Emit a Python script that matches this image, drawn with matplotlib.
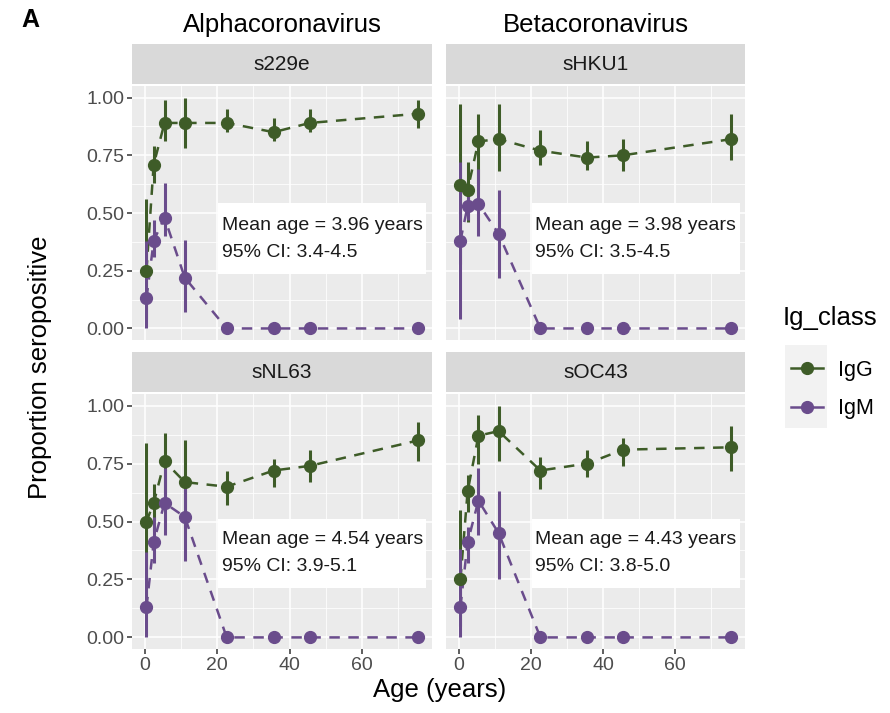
import matplotlib
matplotlib.use("Agg")
import matplotlib.pyplot as plt
from matplotlib.lines import Line2D
from matplotlib.patches import Rectangle

#
#   Data
#

ages = [0.4, 2.4, 5.4, 11.0, 22.6, 35.6, 45.6, 75.6]

panels = ["s229e", "sHKU1", "sNL63", "sOC43"]
families = ["Alphacoronavirus", "Betacoronavirus"]
mean_ages = ["3.96", "3.98", "4.54", "4.43"]
mean_ci = ["3.4-4.5", "3.5-4.5", "3.9-5.1", "3.8-5.0"]

igg_s229e = [0.25, 0.71, 0.89, 0.89, 0.89, 0.85, 0.89, 0.93]
igg_s229e_lo = [0.04, 0.63, 0.81, 0.78, 0.85, 0.81, 0.85, 0.87]
igg_s229e_hi = [0.56, 0.79, 0.99, 1.00, 0.95, 0.91, 0.95, 0.99]
igm_s229e = [0.13, 0.38, 0.48, 0.22, 0, 0, 0, 0]
igm_s229e_lo = [0.00, 0.31, 0.40, 0.07, 0, 0, 0, 0]
igm_s229e_hi = [0.38, 0.47, 0.63, 0.385, 0, 0, 0, 0]

igg_shku1 = [0.62, 0.60, 0.81, 0.82, 0.77, 0.74, 0.75, 0.82]
igg_shku1_lo = [0.28, 0.46, 0.62, 0.68, 0.71, 0.685, 0.68, 0.73]
igg_shku1_hi = [0.97, 0.72, 0.93, 0.97, 0.86, 0.81, 0.82, 0.93]
igm_shku1 = [0.38, 0.53, 0.54, 0.41, 0, 0, 0, 0]
igm_shku1_lo = [0.04, 0.47, 0.40, 0.22, 0, 0, 0, 0]
igm_shku1_hi = [0.72, 0.61, 0.69, 0.60, 0, 0, 0, 0]

igg_snl63 = [0.50, 0.58, 0.76, 0.67, 0.65, 0.72, 0.74, 0.85]
igg_snl63_lo = [0.16, 0.46, 0.62, 0.47, 0.57, 0.65, 0.67, 0.76]
igg_snl63_hi = [0.84, 0.66, 0.88, 0.85, 0.72, 0.77, 0.81, 0.93]
igm_snl63 = [0.13, 0.41, 0.58, 0.52, 0, 0, 0, 0]
igm_snl63_lo = [0.00, 0.32, 0.44, 0.33, 0, 0, 0, 0]
igm_snl63_hi = [0.37, 0.52, 0.73, 0.655, 0, 0, 0, 0]

igg_soc43 = [0.25, 0.63, 0.87, 0.89, 0.72, 0.75, 0.81, 0.82]
igg_soc43_lo = [0.05, 0.54, 0.75, 0.76, 0.64, 0.69, 0.74, 0.72]
igg_soc43_hi = [0.55, 0.70, 0.96, 1.00, 0.78, 0.81, 0.86, 0.91]
igm_soc43 = [0.13, 0.41, 0.59, 0.45, 0, 0, 0, 0]
igm_soc43_lo = [0.00, 0.32, 0.44, 0.25, 0, 0, 0, 0]
igm_soc43_hi = [0.38, 0.475, 0.73, 0.63, 0, 0, 0, 0]

igg = [(igg_s229e, igg_s229e_lo, igg_s229e_hi), (igg_shku1, igg_shku1_lo, igg_shku1_hi),
       (igg_snl63, igg_snl63_lo, igg_snl63_hi), (igg_soc43, igg_soc43_lo, igg_soc43_hi)]
igm = [(igm_s229e, igm_s229e_lo, igm_s229e_hi), (igm_shku1, igm_shku1_lo, igm_shku1_hi),
       (igm_snl63, igm_snl63_lo, igm_snl63_hi), (igm_soc43, igm_soc43_lo, igm_soc43_hi)]

x_ticks = [0, 20, 40, 60]
y_ticks = [0.0, 0.25, 0.5, 0.75, 1.0]
y_tick_labels = ["0.00", "0.25", "0.50", "0.75", "1.00"]

#
#   Style
#

plt.rcParams["font.family"] = ["Liberation Sans", "DejaVu Sans"]
GREEN = "#3E5C28"
PURPLE = "#6A4C8C"
W, H = 890, 713

# panel boxes in pixels: (left, top, right, bottom)
boxes = [(132, 86, 432, 340), (446, 86, 745, 340),
         (132, 394, 432, 649), (446, 394, 745, 649)]
label_y = [0.388, 0.388, 0.364, 0.364]
label_h = [71, 71, 69, 69]

fig = plt.figure(figsize=(W / 100, H / 100), dpi=100)


def fbox(l, t, r, b):
    return [l / W, 1 - b / H, (r - l) / W, (b - t) / H]


labels = []
for i, name in enumerate(panels):
    l, t, r, b = boxes[i]
    ax = fig.add_axes(fbox(l, t, r, b))
    ax.set_facecolor("#EBEBEB")
    for s in ax.spines.values():
        s.set_visible(False)
    ax.set_xlim(-3.6, 79.4)
    ax.set_ylim(-0.05, 1.05)
    ax.set_xticks(x_ticks)
    ax.set_xticks([10, 30, 50, 70], minor=True)
    ax.set_yticks(y_ticks)
    ax.set_yticks([0.125, 0.375, 0.625, 0.875], minor=True)
    ax.grid(True, which="major", color="white", lw=1.1)
    ax.grid(True, which="minor", color="white", lw=0.55)
    ax.set_axisbelow(True)
    ax.tick_params(which="minor", length=0)
    ax.tick_params(which="major", length=3.5, width=1.1, color="#333333",
                   labelsize=14, labelcolor="#4D4D4D", pad=2)
    if i % 2 == 0:
        ax.set_yticklabels(y_tick_labels)
    else:
        ax.tick_params(axis="y", length=0, labelleft=False)
    if i < 2:
        ax.tick_params(axis="x", length=0, labelbottom=False)

    for (vals, lo, hi), col in ((igg[i], GREEN), (igm[i], PURPLE)):
        ax.plot(ages, vals, color=col, lw=1.8, dashes=(4.2, 3.4), zorder=3)
        ax.vlines(ages, lo, hi, color=col, lw=2.2, zorder=4)
        ax.plot(ages, vals, "o", color=col, ms=8.5, zorder=5)

    txt = ax.text(21.2, label_y[i],
                  "Mean age = %s years\n95%% CI: %s" % (mean_ages[i], mean_ci[i]),
                  ha="left", va="center", fontsize=14, color="#1A1A1A",
                  linespacing=1.75, zorder=7)
    labels.append((ax, txt, label_h[i]))

    # strip
    sax = fig.add_axes(fbox(l, t - 42, r, t - 2))
    sax.set_facecolor("#D9D9D9")
    sax.set_xticks([])
    sax.set_yticks([])
    for s in sax.spines.values():
        s.set_visible(False)
    sax.text(0.5, 0.5, name, ha="center", va="center", fontsize=15, color="#1A1A1A",
             transform=sax.transAxes)

# column headers
for j, fam in enumerate(families):
    l, t, r, b = boxes[j]
    fig.text((l + r) / 2 / W, 1 - 25 / H, fam, ha="center", va="center", fontsize=18.5)

fig.text(30 / W, 1 - 20 / H, "A", ha="center", va="center", fontsize=18, fontweight="bold")
fig.text(40 / W, 1 - 367 / H, "Proportion seropositive", rotation=90,
         ha="center", va="center", fontsize=18.5)
fig.text(440 / W, 1 - 690 / H, "Age (years)", ha="center", va="center", fontsize=18.5)

# legend
fig.text(783 / W, 1 - 318 / H, "Ig_class", ha="left", va="center", fontsize=18.5)
fig.patches.append(Rectangle((785 / W, 1 - 428 / H), 42 / W, 83 / H,
                             transform=fig.transFigure, fc="#F2F2F2", ec="none", zorder=0))
handles = [Line2D([], [], color=GREEN, lw=1.8, marker="o", ms=8.5),
           Line2D([], [], color=PURPLE, lw=1.8, marker="o", ms=8.5)]
leg = fig.legend(handles, ["IgG", "IgM"], loc="upper left",
                 bbox_to_anchor=(780 / W, 1 - 349 / H), frameon=False,
                 fontsize=15.5, handlelength=1.5,
                 labelspacing=0.81, handletextpad=0.7, borderpad=0.0)

# white label boxes sized round the text, like geom_label
fig.canvas.draw()
renderer = fig.canvas.get_renderer()
for ax, txt, hgt in labels:
    bb = txt.get_window_extent(renderer)
    pad_x = 3.5
    pad_y = (hgt - bb.height) / 2
    x0, y0 = bb.x0 - pad_x, bb.y0 - pad_y
    rect = Rectangle((x0, y0), bb.width + 2 * pad_x, bb.height + 2 * pad_y,
                     transform=None, fc="white", ec="none", zorder=6)
    ax.add_artist(rect)
    rect.set_clip_on(False)

fig.savefig("out.png", dpi=100)
